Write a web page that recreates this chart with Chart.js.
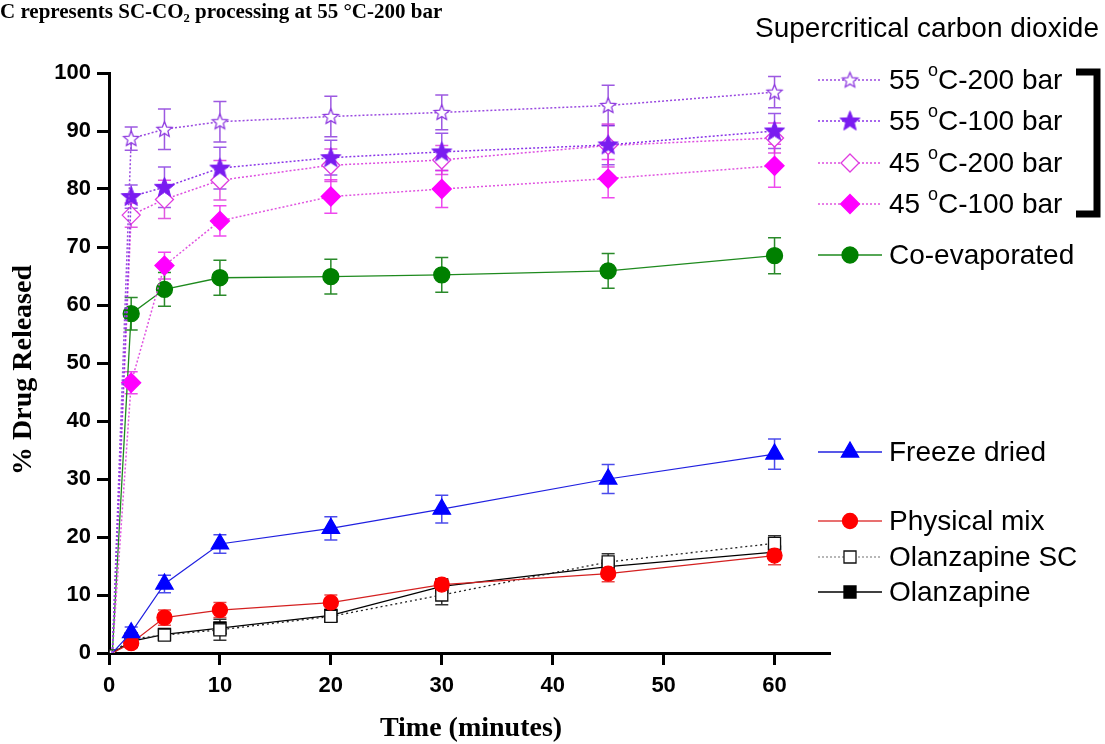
<!DOCTYPE html>
<html>
<head>
<meta charset="utf-8">
<title>% Drug Released vs Time</title>
<script src="https://cdn.jsdelivr.net/npm/chart.js@4.4.0/dist/chart.umd.min.js"></script>
<style>
  html, body { margin: 0; padding: 0; background: #fff; }
  #wrap { width: 1105px; height: 744px; }
</style>
</head>
<body>
<div id="wrap"><canvas id="releaseChart" width="1105" height="744"></canvas></div>
<script>
// sampling times (minutes)
const timePoints = [0.3, 2, 5, 10, 20, 30, 45, 60];
const xTicks = [0, 10, 20, 30, 40, 50, 60];
const yTicks = [0, 10, 20, 30, 40, 50, 60, 70, 80, 90, 100];

// % drug released
const sc55_200 = [0, 88.7, 90.3, 91.6, 92.5, 93.2, 94.4, 96.7];
const sc55_200Err = [0, 2.0, 3.5, 3.5, 3.5, 3.0, 3.5, 2.7];
const sc55_100 = [0, 78.7, 80.3, 83.6, 85.4, 86.4, 87.6, 90.0];
const sc55_100Err = [0, 2.0, 3.5, 3.6, 3.0, 3.2, 3.4, 3.0];
const sc45_200 = [0, 75.5, 78.2, 81.5, 84.1, 85.0, 87.5, 88.8];
const sc45_200Err = [0, 2.1, 3.3, 3.4, 2.8, 2.5, 3.7, 2.6];
const sc45_100 = [0, 46.6, 66.8, 74.5, 78.7, 80.0, 81.8, 84.0];
const sc45_100Err = [0, 1.9, 2.3, 2.6, 2.9, 3.2, 3.3, 3.7];
const coEvaporated = [0, 58.5, 62.7, 64.7, 64.9, 65.2, 65.9, 68.5];
const coEvaporatedErr = [0, 2.8, 2.9, 3.0, 3.0, 3.0, 3.0, 3.1];
const freezeDried = [0, 3.5, 11.9, 18.8, 21.5, 24.8, 30.0, 34.3];
const freezeDriedErr = [0, 1.0, 1.5, 1.6, 2.0, 2.4, 2.5, 2.6];
const physicalMix = [0, 1.7, 6.1, 7.4, 8.7, 11.8, 13.7, 16.8];
const physicalMixErr = [0, 0.8, 1.3, 1.3, 1.3, 1.0, 1.4, 1.6];
const olanzapineSC = [0, 2.4, 3.1, 4.0, 6.3, 10.0, 15.7, 18.9];
const olanzapineSCErr = [0, 1.0, 0.8, 1.8, 1.0, 1.7, 1.4, 1.3];
const olanzapine = [0, 2.0, 3.2, 4.3, 6.5, 11.5, 14.9, 17.4];
const olanzapineErr = [0, 0.8, 0.8, 1.0, 1.0, 1.2, 1.2, 1.2];

// five point star drawn once onto a small canvas, used as a pointStyle
function makeStar(outer, inner, fill, stroke, lw) {
  const size = Math.ceil(outer * 2 + lw * 2 + 2);
  const c = document.createElement('canvas');
  c.width = size;
  c.height = size;
  const g = c.getContext('2d');
  const cx = size / 2, cy = size / 2 + 0.5;
  g.beginPath();
  for (let i = 0; i < 10; i++) {
    const r = i % 2 === 0 ? outer : inner;
    const a = -Math.PI / 2 + i * Math.PI / 5;
    const px = cx + r * Math.cos(a), py = cy + r * Math.sin(a);
    if (i === 0) g.moveTo(px, py); else g.lineTo(px, py);
  }
  g.closePath();
  g.fillStyle = fill;
  g.fill();
  g.lineWidth = lw;
  g.strokeStyle = stroke;
  g.stroke();
  return c;
}

const openStar = makeStar(8, 3.6, '#ffffff', '#8f3be0', 1.3);
const filledStar = makeStar(10.5, 4.5, '#7a1cf0', '#7a1cf0', 1);

const toXY = arr => arr.map((v, i) => ({ x: timePoints[i], y: v }));

// no marker at the origin except the open square
const skipFirst = r => ctx => (ctx.dataIndex === 0 ? 0 : r);

const series = [
  { label: '55 oC-200 bar', data: sc55_200, errors: sc55_200Err, color: '#9a4ae0', errColor: 'rgba(140,60,220,0.85)',
    pointStyle: openStar, radius: 8, fill: '#fff', dash: [2, 2], width: 1.5 },
  { label: '55 oC-100 bar', data: sc55_100, errors: sc55_100Err, color: '#8a35e8', errColor: 'rgba(130,50,225,0.8)',
    pointStyle: filledStar, radius: 10, fill: '#7a1cf0', dash: [2, 2], width: 1.5 },
  { label: '45 oC-200 bar', data: sc45_200, errors: sc45_200Err, color: '#dd4ee0', errColor: 'rgba(220,60,220,0.85)',
    pointStyle: 'rectRot', radius: 9, border: '#e03ce0', fill: '#ffffff', dash: [2, 2], width: 1.5 },
  { label: '45 oC-100 bar', data: sc45_100, errors: sc45_100Err, color: '#e055e0', errColor: 'rgba(235,40,235,0.85)',
    pointStyle: 'rectRot', radius: 9.5, border: '#ff00ff', fill: '#ff00ff', dash: [2, 2], width: 1.5 },
  { label: 'Co-evaporated', data: coEvaporated, errors: coEvaporatedErr, color: '#1e8a1e', errColor: '#2a8a2a',
    pointStyle: 'circle', radius: 8, border: '#008000', fill: '#008000', dash: [], width: 1.3 },
  { label: 'Freeze dried', data: freezeDried, errors: freezeDriedErr, color: '#2020e0', errColor: 'rgba(30,30,230,0.8)',
    pointStyle: 'triangle', radius: 10, border: '#0000ff', fill: '#0000ff', dash: [], width: 1.2 },
  { label: 'Physical mix', data: physicalMix, errors: physicalMixErr, color: '#d42020', errColor: 'rgba(230,40,40,0.85)',
    pointStyle: 'circle', radius: 7.5, border: '#ff0000', fill: '#ff0000', dash: [], width: 1.2 },
  { label: 'Olanzapine SC', data: olanzapineSC, errors: olanzapineSCErr, color: '#222222', errColor: '#333333',
    pointStyle: 'rect', radius: 8.5, border: '#111111', fill: '#ffffff', dash: [2, 3], width: 1.3, origin: true },
  { label: 'Olanzapine', data: olanzapine, errors: olanzapineErr, color: '#000000', errColor: '#000000',
    pointStyle: 'rect', radius: 8.5, border: '#000000', fill: '#000000', dash: [], width: 1.2 }
];

// legend rows (label y centre) and sample line styles
const legendRows = [80, 121, 163, 204, 255, 452, 521, 557, 592];
const legendLineColors = ['#9a4ae0', '#8a35e8', '#dd4ee0', '#e055e0', '#1e8a1e', '#2020e0', '#e04040', '#a0a0a0', '#000000'];

const errorBars = {
  id: 'errorBars',
  beforeDatasetsDraw(chart) {
    const ctx = chart.ctx;
    const xs = chart.scales.x, ys = chart.scales.y;
    ctx.save();
    chart.data.datasets.forEach(ds => {
      ctx.strokeStyle = ds.errColor;
      ctx.lineWidth = 1.5;
      ds.errors.forEach((e, j) => {
        if (!e) return;
        const v = ds.data[j].y;
        const x = xs.getPixelForValue(ds.data[j].x);
        const yt = ys.getPixelForValue(v + e);
        const yb = ys.getPixelForValue(v - e);
        ctx.beginPath();
        ctx.moveTo(x, yt); ctx.lineTo(x, yb);
        ctx.moveTo(x - 6.5, yt); ctx.lineTo(x + 6.5, yt);
        ctx.moveTo(x - 6.5, yb); ctx.lineTo(x + 6.5, yb);
        ctx.stroke();
      });
    });
    ctx.restore();
  }
};

function drawMarker(ctx, s, x, y) {
  if (typeof s.pointStyle !== 'string') {
    ctx.drawImage(s.pointStyle, x - s.pointStyle.width / 2, y - s.pointStyle.height / 2);
    return;
  }
  const r = s.radius;
  ctx.beginPath();
  if (s.pointStyle === 'circle') {
    ctx.arc(x, y, r, 0, Math.PI * 2);
  } else if (s.pointStyle === 'triangle') {
    for (let i = 0; i < 3; i++) {
      const a = i * 2 * Math.PI / 3;
      const px = x + Math.sin(a) * r, py = y - Math.cos(a) * r;
      if (i === 0) ctx.moveTo(px, py); else ctx.lineTo(px, py);
    }
    ctx.closePath();
  } else if (s.pointStyle === 'rectRot') {
    ctx.moveTo(x, y - r); ctx.lineTo(x + r, y); ctx.lineTo(x, y + r); ctx.lineTo(x - r, y);
    ctx.closePath();
  } else {
    const h = r * Math.SQRT1_2;
    ctx.rect(x - h, y - h, 2 * h, 2 * h);
  }
  ctx.fillStyle = s.fill;
  ctx.fill();
  ctx.lineWidth = 1.3;
  ctx.strokeStyle = s.border;
  ctx.stroke();
}

const decorations = {
  id: 'decorations',
  afterDraw(chart) {
    const ctx = chart.ctx;
    ctx.save();

    // caption at the top left
    ctx.fillStyle = '#000';
    ctx.font = 'bold 21px "Liberation Serif", "Times New Roman", serif';
    ctx.textBaseline = 'alphabetic';
    ctx.textAlign = 'left';
    ctx.fillText('C represents SC-CO\u2082 processing at 55 \u00B0C-200 bar', 0, 18);

    // axis titles
    ctx.font = 'bold 28px "Liberation Serif", "Times New Roman", serif';
    ctx.textAlign = 'center';
    ctx.textBaseline = 'middle';
    ctx.fillText('Time (minutes)', 471, 729);
    ctx.save();
    ctx.translate(24, 370);
    ctx.rotate(-Math.PI / 2);
    ctx.fillText('% Drug Released', 0, 0);
    ctx.restore();

    // legend heading
    ctx.font = '28px "Liberation Sans", Arial, sans-serif';
    ctx.textAlign = 'right';
    ctx.fillText('Supercritical carbon dioxide', 1099, 29);

    // legend rows
    series.forEach((s, i) => {
      const y = legendRows[i];
      ctx.save();
      ctx.strokeStyle = legendLineColors[i];
      ctx.lineWidth = 1.3;
      ctx.setLineDash(s.dash.length ? [2, 2] : []);
      ctx.beginPath();
      ctx.moveTo(818, y); ctx.lineTo(882, y);
      ctx.stroke();
      ctx.setLineDash([]);
      drawMarker(ctx, s, 850, y);
      ctx.restore();

      ctx.fillStyle = '#000';
      ctx.textAlign = 'left';
      ctx.textBaseline = 'middle';
      ctx.font = '28px "Liberation Sans", Arial, sans-serif';
      if (i < 4) {
        const parts = s.label.split(' oC');
        let x = 889;
        ctx.fillText(parts[0] + ' ', x, y + 1);
        x += ctx.measureText(parts[0] + ' ').width;
        ctx.font = '18px "Liberation Sans", Arial, sans-serif';
        ctx.fillText('o', x, y - 9);
        x += ctx.measureText('o').width;
        ctx.font = '28px "Liberation Sans", Arial, sans-serif';
        ctx.fillText('C' + parts[1], x, y + 1);
      } else {
        ctx.fillText(s.label, 889, y + 1);
      }
    });

    // bracket grouping the supercritical series
    ctx.strokeStyle = '#000';
    ctx.lineWidth = 7;
    ctx.lineJoin = 'miter';
    ctx.beginPath();
    ctx.moveTo(1076, 72);
    ctx.lineTo(1097, 72);
    ctx.lineTo(1097, 214);
    ctx.lineTo(1076, 214);
    ctx.stroke();

    ctx.restore();
  }
};

const chart = new Chart(document.getElementById('releaseChart'), {
  type: 'line',
  data: {
    datasets: series.map(s => ({
      label: s.label,
      data: toXY(s.data),
      errors: s.errors,
      errColor: s.errColor,
      borderColor: s.color,
      borderWidth: s.width,
      borderDash: s.dash,
      tension: 0,
      fill: false,
      pointStyle: s.pointStyle,
      pointRadius: s.origin ? (ctx => (ctx.dataIndex === 0 ? 4.5 : s.radius)) : skipFirst(s.radius),
      pointBackgroundColor: s.fill,
      pointBorderColor: s.border || s.color,
      pointBorderWidth: 1.3,
      pointHoverRadius: 0
    }))
  },
  options: {
    responsive: false,
    animation: false,
    events: [],
    layout: { padding: { top: 73, right: 275, bottom: 0, left: 0 } },
    plugins: {
      legend: { display: false },
      tooltip: { enabled: false }
    },
    scales: {
      x: {
        type: 'linear',
        min: 0,
        max: 65,
        afterBuildTicks: scale => { scale.ticks = xTicks.map(v => ({ value: v })); },
        afterFit: scale => { scale.height = 91; },
        border: { color: '#000', width: 3 },
        grid: { drawOnChartArea: false, drawTicks: true, tickLength: 12, tickWidth: 3, tickColor: '#000', color: '#000' },
        ticks: {
          color: '#000',
          padding: 8,
          maxRotation: 0,
          font: { family: '"Liberation Sans", Arial, sans-serif', size: 22, weight: 'bold' }
        }
      },
      y: {
        min: 0,
        max: 100,
        afterBuildTicks: scale => { scale.ticks = yTicks.map(v => ({ value: v })); },
        afterFit: scale => { scale.width = 109; },
        border: { color: '#000', width: 3 },
        grid: { drawOnChartArea: false, drawTicks: true, tickLength: 12, tickWidth: 3, tickColor: '#000', color: '#000' },
        ticks: {
          color: '#000',
          padding: 6,
          font: { family: '"Liberation Sans", Arial, sans-serif', size: 22, weight: 'bold' }
        }
      }
    }
  },
  plugins: [errorBars, decorations]
});
</script>
</body>
</html>
